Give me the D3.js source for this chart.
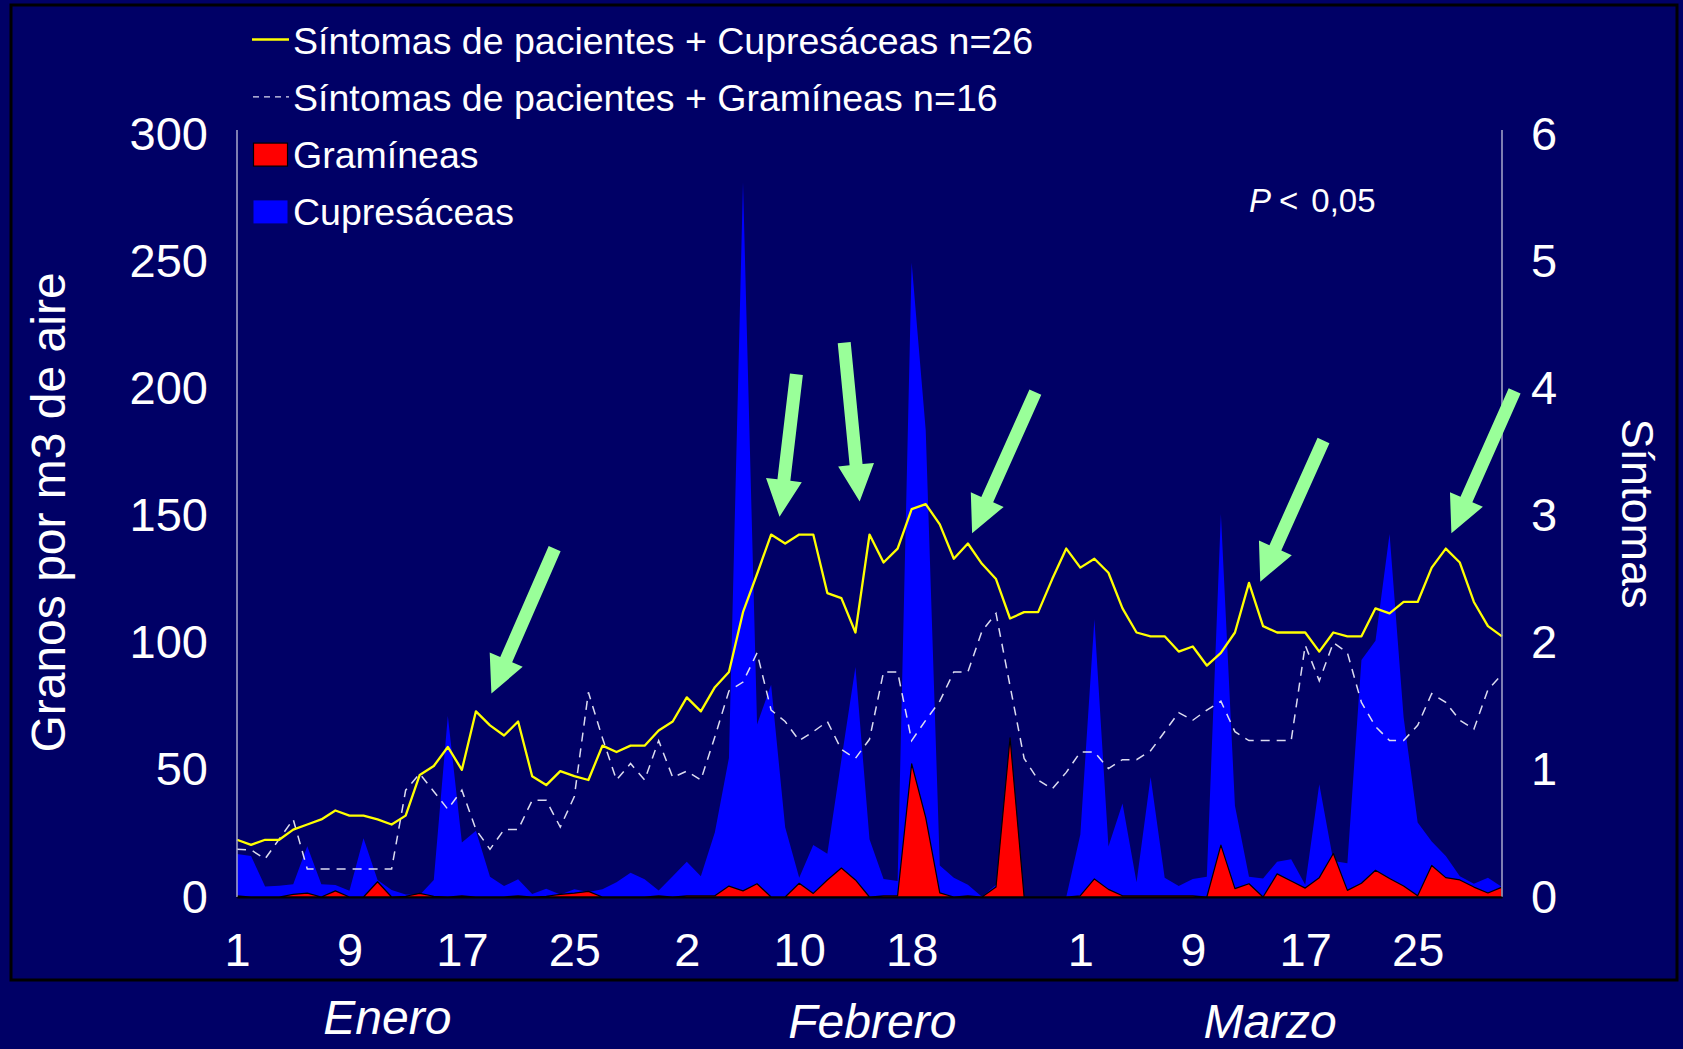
<!DOCTYPE html>
<html>
<head>
<meta charset="utf-8">
<script src="https://cdn.jsdelivr.net/npm/d3@7"></script>
<style>
  html, body { margin: 0; padding: 0; background: #000066; }
  svg { display: block; }
  text { font-family: "Liberation Sans", Arial, sans-serif; fill: #ffffff; }
</style>
</head>
<body>
<svg id="grafica" width="1683" height="1049"></svg>
<script>
// dias 0..90 = 1 enero .. 31 marzo (año bisiesto)
var cupresaceas = [16.9,16.1,4.1,4.4,5.0,20,5,4.7,2.5,23.1,
  6.7,2.8,1,0.8,6.7,71.2,21.4,26,8,4.3,
  7,1.2,3.2,1,3,2,3,5.8,9.5,7,
  2.6,8.2,13.9,8.2,25.5,54.7,281,67.8,83.5,27.4,
  7.6,20.4,17,54,90.4,22.7,7.1,6.3,249.4,183.5,
  12.4,7.6,4.8,0.1,4.8,0,0,0,0,0,
  24.6,109.2,19.9,36.8,5.8,47.2,7.6,4.3,7.1,8.0,
  150.6,35.9,8,7.3,13.9,14.8,4.8,44.3,14.2,13.3,
  93.2,100.8,142.7,70.7,29.3,21.8,16.1,8.2,5.2,7.6,
  3.9];

var gramineas = [0.5,0,0,0,1,1.5,0,2.4,0,0,
  6.0,0,0.3,1.4,0.3,0,0.5,0,0,0,
  0.5,0,0.3,1,1.5,2.2,0,0,0,0,
  0.5,0,0.5,0.5,0.5,4.3,2.4,5.2,0,0,
  5.4,1.4,6.7,11.4,6.7,0,0.5,0.5,52.4,31.2,
  1.6,0,0.5,0,3.9,62.6,0,0,0,0,
  0.5,7.1,3,0.5,0.5,0.5,0.5,0.5,0.5,0,
  20.4,3.3,5.2,0,9.1,6.3,3.5,7.6,17.1,2.6,
  5.4,10.5,7.3,4.3,0.5,12.4,7.6,6.7,3.9,1.6,
  3.9];

var sintomasCupresaceas = [0.45,0.41,0.45,0.45,0.53,0.57,0.61,0.68,0.64,0.64,
  0.61,0.57,0.64,0.96,1.03,1.18,1.00,1.46,1.35,1.27,
  1.38,0.95,0.88,0.99,0.95,0.92,1.19,1.14,1.19,1.19,
  1.31,1.38,1.57,1.46,1.65,1.77,2.24,2.54,2.85,2.78,
  2.85,2.85,2.39,2.35,2.08,2.85,2.63,2.74,3.05,3.09,
  2.93,2.66,2.78,2.62,2.50,2.19,2.24,2.24,2.50,2.74,
  2.59,2.66,2.55,2.27,2.08,2.05,2.05,1.93,1.97,1.82,
  1.92,2.08,2.47,2.13,2.08,2.08,2.08,1.93,2.08,2.05,
  2.05,2.27,2.23,2.32,2.32,2.59,2.74,2.63,2.32,2.13,
  2.05];

var sintomasGramineas = [0.375,0.37,0.30,0.455,0.61,0.22,0.22,0.22,0.22,0.22,
  0.22,0.22,0.84,0.97,0.83,0.69,0.84,0.53,0.375,0.53,
  0.53,0.76,0.76,0.55,0.79,1.61,1.25,0.92,1.05,0.92,
  1.23,0.94,0.99,0.92,1.26,1.62,1.69,1.92,1.47,1.38,
  1.23,1.30,1.38,1.16,1.09,1.24,1.77,1.77,1.23,1.39,
  1.54,1.77,1.77,2.09,2.23,1.66,1.09,0.92,0.85,0.98,
  1.14,1.14,1.01,1.08,1.08,1.15,1.30,1.45,1.39,1.47,
  1.54,1.30,1.23,1.23,1.23,1.23,1.98,1.70,2.00,1.92,
  1.53,1.34,1.23,1.23,1.35,1.60,1.53,1.39,1.32,1.63,
  1.75];

var diaTicks = [0, 8, 16, 24, 32, 40, 48, 60, 68, 76, 84];
var diaLabels = ["1", "9", "17", "25", "2", "10", "18", "1", "9", "17", "25"];
var granosTicks = [0, 50, 100, 150, 200, 250, 300];
var sintomasTicks = [0, 1, 2, 3, 4, 5, 6];
var meses = ["Enero", "Febrero", "Marzo"];
var mesesDia = [10.7, 45.2, 73.5];

// flechas: punta y cola en (dia, sintomas)
var flechas = [
  {tipDay: 18.1, tipVal: 1.60, tailDay: 22.6, tailVal: 2.74},
  {tipDay: 38.6, tipVal: 2.99, tailDay: 39.8, tailVal: 4.11},
  {tipDay: 44.3, tipVal: 3.11, tailDay: 43.2, tailVal: 4.36},
  {tipDay: 52.3, tipVal: 2.86, tailDay: 56.8, tailVal: 3.97},
  {tipDay: 72.8, tipVal: 2.48, tailDay: 77.3, tailVal: 3.59},
  {tipDay: 86.4, tipVal: 2.86, tailDay: 90.9, tailVal: 3.98}
];

var svg = d3.select("#grafica");
var margin = {top: 134, bottom: 152, left: 237, right: 181};
var width = +svg.attr("width"), height = +svg.attr("height");

var x = d3.scaleLinear().domain([0, 90]).range([margin.left, width - margin.right]);
var yL = d3.scaleLinear().domain([0, 300]).range([height - margin.bottom, margin.top]);
var yR = d3.scaleLinear().domain([0, 6]).range([height - margin.bottom, margin.top]);

// marco
svg.append("rect")
  .attr("x", 11).attr("y", 5).attr("width", 1666).attr("height", 975)
  .attr("fill", "#000066").attr("stroke", "#000000").attr("stroke-width", 3);

var areaL = d3.area()
  .x((d, i) => x(i))
  .y0(yL(0))
  .y1(d => yL(d));

svg.append("path")
  .datum(cupresaceas)
  .attr("fill", "#0000ff")
  .attr("d", areaL);

svg.append("path")
  .datum(gramineas)
  .attr("fill", "#ff0000")
  .attr("stroke", "#000000")
  .attr("stroke-width", 1.2)
  .attr("stroke-linejoin", "round")
  .attr("d", areaL);

var lineR = d3.line()
  .x((d, i) => x(i))
  .y(d => yR(d));

svg.append("path")
  .datum(sintomasGramineas)
  .attr("fill", "none")
  .attr("stroke", "#dcdcf0")
  .attr("stroke-width", 1.5)
  .attr("stroke-dasharray", "9,7")
  .attr("d", lineR);

svg.append("path")
  .datum(sintomasCupresaceas)
  .attr("fill", "none")
  .attr("stroke", "#ffff00")
  .attr("stroke-width", 2.3)
  .attr("stroke-linejoin", "round")
  .attr("d", lineR);

// ejes
var yAxis = svg.append("g")
  .attr("transform", `translate(${margin.left},0)`)
  .call(d3.axisLeft(yL).tickValues(granosTicks).tickSize(0).tickPadding(29).tickSizeOuter(0));

var y2Axis = svg.append("g")
  .attr("transform", `translate(${width - margin.right},0)`)
  .call(d3.axisRight(yR).tickValues(sintomasTicks).tickFormat(d3.format("d"))
    .tickSize(0).tickPadding(29).tickSizeOuter(0));

var xAxis = svg.append("g")
  .attr("transform", `translate(0,${yL(0)})`)
  .call(d3.axisBottom(x).tickValues(diaTicks).tickSize(0).tickPadding(36).tickSizeOuter(0)
    .tickFormat((d, i) => diaLabels[i]));

[yAxis, y2Axis].forEach(g => {
  g.select(".domain").attr("stroke", "#a8a8cc").attr("stroke-width", 1.5);
  g.selectAll("text").style("font-size", "47px").attr("fill", "#ffffff")
    .style("font-family", "'Liberation Sans', Arial, sans-serif");
});
yAxis.select(".domain").attr("d", `M0,${yL(0)}V130`);
y2Axis.select(".domain").attr("d", `M0,${yR(0)}V130`);

xAxis.select(".domain").attr("stroke", "#000000").attr("stroke-width", 2);
xAxis.selectAll("text").style("font-size", "47px").attr("fill", "#ffffff")
  .style("font-family", "'Liberation Sans', Arial, sans-serif");

// titulos de ejes
svg.append("text")
  .attr("transform", `translate(65,${(yL(0) + yL(300)) / 2 - 3}) rotate(-90)`)
  .attr("text-anchor", "middle")
  .style("font-size", "48px")
  .text("Granos por m3 de aire");

svg.append("text")
  .attr("transform", `translate(1622,${(yR(0) + yR(6)) / 2 - 2}) rotate(90)`)
  .attr("text-anchor", "middle")
  .style("font-size", "45px")
  .text("Síntomas");

// meses
var mesY = [1034, 1038, 1038];
svg.selectAll(".mes")
  .data(meses)
  .enter().append("text")
  .attr("class", "mes")
  .attr("x", (d, i) => x(mesesDia[i]))
  .attr("y", (d, i) => mesY[i])
  .attr("text-anchor", "middle")
  .style("font-size", "48px")
  .style("font-style", "italic")
  .text(d => d);

// P < 0,05
var pTxt = svg.append("text")
  .attr("x", 1249).attr("y", 212)
  .style("font-size", "33px");
pTxt.append("tspan").style("font-style", "italic").text("P");
pTxt.append("tspan").attr("dx", 8).text("<");
pTxt.append("tspan").attr("dx", 13).text("0,05");

// flechas
svg.selectAll(".flecha")
  .data(flechas)
  .enter().append("path")
  .attr("class", "flecha")
  .attr("fill", "#99ff99")
  .attr("d", d => {
    var tx = x(d.tipDay), ty = yR(d.tipVal);
    var sx = x(d.tailDay), sy = yR(d.tailVal);
    var dx = tx - sx, dy = ty - sy, len = Math.sqrt(dx * dx + dy * dy);
    var ux = dx / len, uy = dy / len, nx = -uy, ny = ux;
    var head = 37, hw = 18, sw = 6.5;
    var bx = tx - ux * head, by = ty - uy * head;
    var pts = [
      [sx + nx * sw, sy + ny * sw],
      [bx + nx * sw, by + ny * sw],
      [bx + nx * hw, by + ny * hw],
      [tx, ty],
      [bx - nx * hw, by - ny * hw],
      [bx - nx * sw, by - ny * sw],
      [sx - nx * sw, sy - ny * sw]
    ];
    return "M" + pts.map(p => p.join(",")).join("L") + "Z";
  });

// leyenda
var leyenda = [
  {label: "Síntomas de pacientes + Cupresáceas n=26", type: "line"},
  {label: "Síntomas de pacientes + Gramíneas n=16", type: "dash"},
  {label: "Gramíneas", type: "red"},
  {label: "Cupresáceas", type: "blue"}
];
var leg = svg.append("g");
leyenda.forEach((d, i) => {
  var base = 53.5 + i * 57.3;
  if (d.type == "line") {
    leg.append("line").attr("x1", 252).attr("x2", 289).attr("y1", base - 14).attr("y2", base - 14)
      .attr("stroke", "#ffff00").attr("stroke-width", 2.5);
  } else if (d.type == "dash") {
    leg.append("line").attr("x1", 253).attr("x2", 289).attr("y1", base - 14).attr("y2", base - 14)
      .attr("stroke", "#dcdcf0").attr("stroke-width", 1.3).attr("stroke-dasharray", "6,5");
  } else {
    leg.append("rect").attr("x", 253.5).attr("y", base - 25).attr("width", 34).attr("height", 23)
      .attr("fill", d.type == "red" ? "#ff0000" : "#0000ff")
      .attr("stroke", d.type == "red" ? "#000000" : "none").attr("stroke-width", 1.2);
  }
  leg.append("text").attr("x", 293).attr("y", base)
    .style("font-size", "37.5px").text(d.label);
});
</script>
</body>
</html>
